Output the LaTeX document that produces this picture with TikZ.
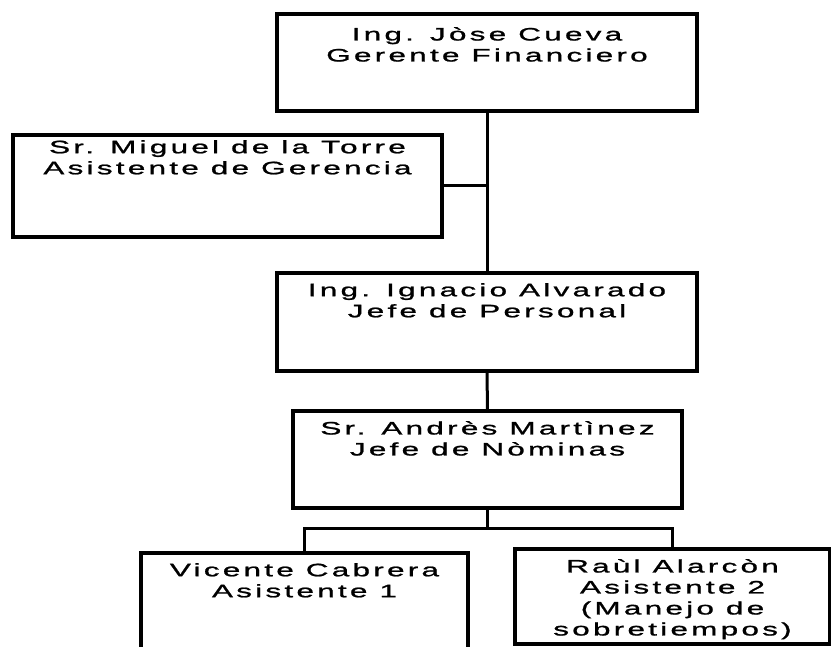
\documentclass[tikz,border=0pt]{standalone}
\usepackage{fontspec}
\setmainfont{Liberation Sans}[FakeStretch=1.75,LetterSpace=18,FakeBold=1.2]
\usepackage{tikz}

\begin{document}
\begin{tikzpicture}[x=1pt, y=-1pt,
	puesto/.style={draw, line width=4.2pt, outer sep=0pt, inner sep=0pt},
	nombre/.style={anchor=north, align=center, inner sep=0pt, font=\fontsize{18}{21}\selectfont},
	conector/.style={line width=3pt}]
	\clip (0,0) rectangle (831,647);

	\node [puesto, minimum width=420pt, minimum height=97pt,
		label={[nombre, name=tgerente, yshift=-13pt]north:{Ing. Jòse Cueva\\Gerente Financiero}}] (gerente) at (487,62.5) {};
	\node [puesto, minimum width=429pt, minimum height=102pt,
		label={[nombre, name=tasist, yshift=-5pt]north:{Sr. Miguel de la Torre\\Asistente de Gerencia}}] (asist) at (227.5,186) {};
	\node [puesto, minimum width=420pt, minimum height=98pt,
		label={[nombre, name=tpersonal, yshift=-10pt]north:{Ing. Ignacio Alvarado\\Jefe de Personal}}] (personal) at (487,322) {};
	\node [puesto, minimum width=389pt, minimum height=97pt,
		label={[nombre, name=tnominas, yshift=-10pt]north:{Sr. Andrès Martìnez\\Jefe de Nòminas}}] (nominas) at (487.5,459.5) {};
	\node [puesto, minimum width=327pt, minimum height=117pt,
		label={[nombre, name=tvicente, yshift=-10pt]north:{Vicente Cabrera\\Asistente 1}}] (vicente) at (304.5,611.5) {};
	\node [puesto, minimum width=315pt, minimum height=95pt,
		label={[nombre, name=traul, yshift=-10pt]north:{Raùl Alarcòn\\Asistente 2\\(Manejo de\\sobretiempos)}}] (raul) at (672.5,596.5) {};

	\draw [conector] (gerente.south) -- (personal.north);
	\draw [conector] (asist.east) -- (asist.east -| gerente.south);
	\draw [conector] (personal.south) -- (nominas.north);
	\draw [conector] (nominas.south) -- ++(0,20) coordinate (rama);
	\draw [conector] (vicente.north) |- (rama) -| (raul.north);
\end{tikzpicture}
\end{document}
